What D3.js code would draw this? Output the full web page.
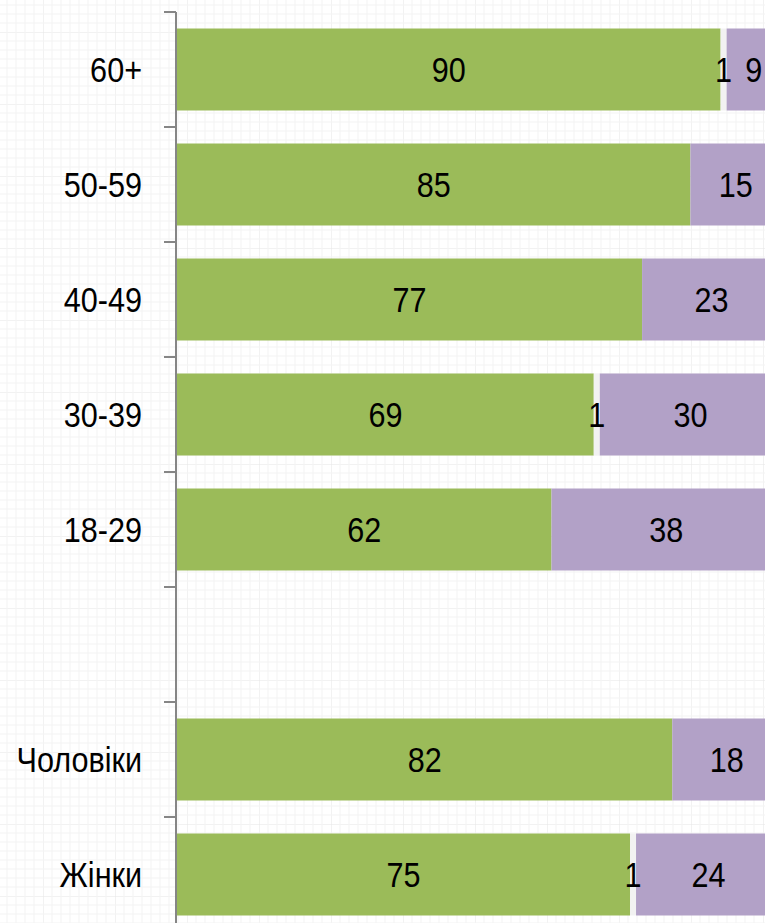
<!DOCTYPE html>
<html>
<head>
<meta charset="utf-8">
<script src="https://cdn.jsdelivr.net/npm/d3@7"></script>
<style>
  html, body { margin: 0; padding: 0; background: #fff; }
  svg { display: block; }
  text { font-family: "Liberation Sans Narrow", "Arial Narrow", "Liberation Sans", Arial, sans-serif; }
</style>
</head>
<body>
<svg id="chart" width="765" height="923"></svg>
<script>
// ---- data ----
const categories = ["60+", "50-59", "40-49", "30-39", "18-29", "", "Чоловіки", "Жінки"];
const seriesYes   = [90, 85, 77, 69, 62, null, 82, 75];
const seriesOther = [1, 0, 0, 1, 0, null, 0, 1];
const seriesNo    = [9, 15, 23, 30, 38, null, 18, 24];
const seriesColors = ["#9BBB59", "#F2F2F2", "#B2A1C7"];

const W = 765, H = 923;
const NARROW = 0.85;
const svg = d3.select("#chart");

// graph-paper background
const defs = svg.append("defs");
const pat = defs.append("pattern").attr("id", "grid").attr("patternUnits", "userSpaceOnUse")
  .attr("width", 72).attr("height", 72).attr("x", 43).attr("y", 32);
pat.append("rect").attr("width", 72).attr("height", 72).attr("fill", "#fff");
for (let i = 0; i < 8; i++) {
  pat.append("line").attr("x1", i * 9).attr("x2", i * 9).attr("y1", 0).attr("y2", 72)
    .attr("stroke", i === 0 ? "#e6e6e6" : "#f4f4f4").attr("stroke-width", 1);
  pat.append("line").attr("y1", i * 9).attr("y2", i * 9).attr("x1", 0).attr("x2", 72)
    .attr("stroke", i === 0 ? "#e6e6e6" : "#f4f4f4").attr("stroke-width", 1);
}
svg.append("rect").attr("width", W).attr("height", H).attr("fill", "url(#grid)");

const idx = categories.map((d, i) => i);
const y = d3.scaleBand().domain(idx).range([12, 932]).paddingInner(0.287).paddingOuter(0.1435);
const x = d3.scaleLinear().domain([0, 100]).range([177, 781]);

const rows = idx.filter(i => seriesYes[i] !== null).map(i => {
  const vals = [seriesYes[i], seriesOther[i], seriesNo[i]];
  let acc = 0;
  return { i, segs: vals.map((v, k) => { const s = { k, v, x0: acc, x1: acc + v }; acc += v; return s; }) };
});

const g = svg.append("g");
const rowG = g.selectAll("g.row").data(rows).enter().append("g").attr("class", "row");
rowG.selectAll("rect").data(r => r.segs.filter(s => s.v > 0).map(s => ({ ...s, i: r.i })))
  .enter().append("rect")
  .attr("x", s => x(s.x0))
  .attr("width", s => x(s.x1) - x(s.x0))
  .attr("y", s => y(s.i))
  .attr("height", y.bandwidth())
  .attr("fill", s => seriesColors[s.k]);

rowG.selectAll("text").data(r => r.segs.filter(s => s.v > 0).map(s => ({ ...s, i: r.i })))
  .enter().append("text")
  .attr("transform", s => `translate(${(x(s.x0) + x(s.x1)) / 2},${y(s.i) + y.bandwidth() / 2}) scale(${NARROW},1)`)
  .attr("dy", "0.36em")
  .attr("text-anchor", "middle")
  .attr("font-size", 36)
  .attr("fill", "#000")
  .text(s => s.v);

// axis
const ax = svg.append("g");
const step = y.step();
const boundaries = d3.range(categories.length + 1).map(k => 12 + k * step);
ax.append("line").attr("x1", 176).attr("x2", 176).attr("y1", 12).attr("y2", H)
  .attr("stroke", "#868686").attr("stroke-width", 2);
ax.selectAll("line.tick").data(boundaries).enter().append("line").attr("class", "tick")
  .attr("x1", 164).attr("x2", 176).attr("y1", d => d).attr("y2", d => d)
  .attr("stroke", "#868686").attr("stroke-width", 2);
ax.selectAll("text").data(idx).enter().append("text")
  .attr("transform", i => `translate(142,${y(i) + y.bandwidth() / 2}) scale(${NARROW},1)`)
  .attr("dy", "0.36em")
  .attr("text-anchor", "end")
  .attr("font-size", 36)
  .attr("fill", "#000")
  .text(i => categories[i]);
</script>
</body>
</html>
